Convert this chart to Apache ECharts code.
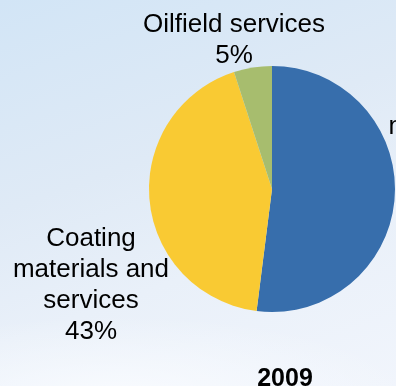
<!DOCTYPE html>
<html>
<head>
<meta charset="utf-8">
<script src="https://cdn.jsdelivr.net/npm/echarts@6/dist/echarts.min.js"></script>
<style>
  html, body { margin: 0; padding: 0; width: 396px; height: 386px; overflow: hidden; }
  body {
    background:
      radial-gradient(ellipse 420px 120px at 120px 400px, rgba(250,252,255,0.9), rgba(250,252,255,0) 70%),
      linear-gradient(160deg, #d2e5f6 0%, #dfeaf6 40%, #e9f0f9 65%, #f1f5fc 100%);
  }
  #chart { width: 396px; height: 386px; }
</style>
</head>
<body>
<div id="chart"></div>
<script>
// Revenue split by business segment, 2009 (percent)
const segments = ['Steel pipe\nmanufacturing', 'Coating\nmaterials and\nservices', 'Oilfield services'];
const shares = [52, 43, 5];
const sliceColors = ['#376eac', '#f9ca33', '#a7bd6e'];
const yearLabel = '2009';

// label anchor points (centre of each text block)
const labelAnchors = [
  { x: 471, y: 127 },
  { x: 91, y: 285 },
  { x: 234, y: 40 }
];

const chart = echarts.init(document.getElementById('chart'), null, { renderer: 'canvas' });

chart.setOption({
  backgroundColor: 'transparent',
  animation: false,
  title: {
    text: yearLabel,
    left: 280,
    top: 362,
    textAlign: 'center',
    textStyle: {
      fontFamily: 'Liberation Sans, Arial, sans-serif',
      fontWeight: 'bold',
      fontSize: 25,
      color: '#000'
    }
  },
  series: [{
    type: 'pie',
    center: [272, 189],
    radius: [0, 123],
    startAngle: 90,
    clockwise: true,
    avoidLabelOverlap: false,
    data: segments.map((name, i) => ({
      name: name,
      value: shares[i],
      itemStyle: { color: sliceColors[i] }
    })),
    itemStyle: { borderWidth: 0 },
    emphasis: { disabled: true },
    label: {
      show: true,
      position: 'outside',
      formatter: '{b}\n{c}%',
      fontFamily: 'Liberation Sans, Arial, sans-serif',
      fontSize: 26,
      lineHeight: 31,
      color: '#000',
      align: 'center'
    },
    labelLine: { show: false },
    labelLayout: function (params) {
      const a = labelAnchors[params.dataIndex];
      return { x: a.x, y: a.y, align: 'center', verticalAlign: 'middle' };
    }
  }]
});
</script>
</body>
</html>
